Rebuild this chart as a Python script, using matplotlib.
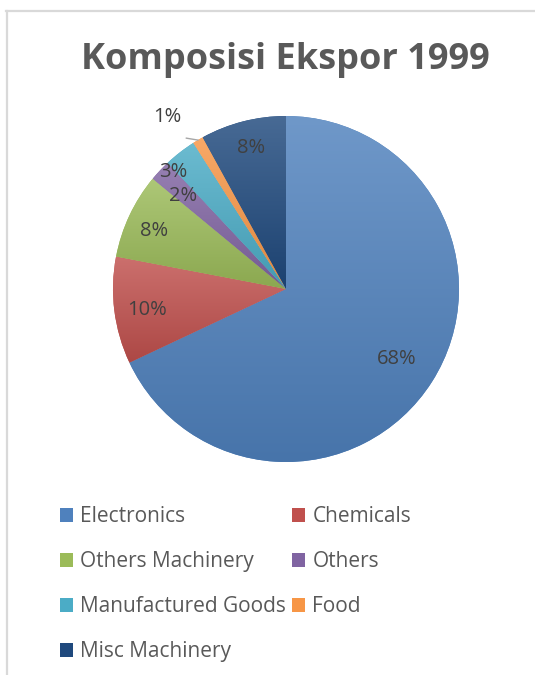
import numpy as np
import matplotlib.pyplot as plt
from matplotlib.patches import Patch
from matplotlib.colors import to_rgb

# data
categories = ['Electronics', 'Chemicals', 'Others Machinery', 'Others',
              'Manufactured Goods', 'Food', 'Misc Machinery']
shares = [68, 10, 8, 2, 3, 1, 8]
colors = ['#4F81BD', '#C0504D', '#9BBB59', '#8064A2', '#4BACC6', '#F79646', '#1F497D']
pct_labels = ['68%', '10%', '8%', '2%', '3%', '1%', '8%']

# label placement (radius factor, angle shift in degrees)
label_r = [0.76, 0.81, 0.83, 0.80, 0.94, 1.21, 0.84]
label_shift = [0, 1.5, 1.5, 1, 6, 4, -0.5]

plt.rcParams['font.family'] = ['Open Sans', 'DejaVu Sans']

fig = plt.figure(figsize=(5.35, 6.75), dpi=100)
W, H = 535, 675
cx, cy, R = 286, 289, 173
ax = fig.add_axes([(cx - R) / W, (H - cy - R) / H, 2 * R / W, 2 * R / H])
ax.set_xlim(-1, 1)
ax.set_ylim(-1, 1)
ax.set_aspect('equal')
ax.axis('off')

wedges, _ = ax.pie(shares, colors=colors, startangle=90, counterclock=False,
                   radius=1, wedgeprops=dict(linewidth=0))


def shade(c, f):
    r = np.array(to_rgb(c))
    if f > 0:
        return r + (1 - r) * f
    return r * (1 + f)


# gradient fill per slice (lighter top, darker bottom)
for w, c in zip(wedges, colors):
    verts = w.get_path().transformed(w.get_patch_transform()).vertices
    y0, y1 = verts[:, 1].min(), verts[:, 1].max()
    x0, x1 = verts[:, 0].min(), verts[:, 0].max()
    top, bot = shade(c, 0.18), shade(c, -0.1)
    t = np.linspace(0, 1, 64)[:, None]
    img = (top[None, :] * (1 - t) + bot[None, :] * t)[:, None, :]
    im = ax.imshow(img, extent=[x0, x1, y0, y1], origin='upper', aspect='auto',
                   zorder=2, interpolation='bilinear')
    im.set_clip_path(w)
ax.set_xlim(-1, 1)
ax.set_ylim(-1, 1)

# percentage labels
for w, lab, rf, sh in zip(wedges, pct_labels, label_r, label_shift):
    mid = np.deg2rad((w.theta1 + w.theta2) / 2 + sh)
    x, y = rf * np.cos(mid), rf * np.sin(mid)
    ax.text(x, y, lab, ha='center', va='center', fontsize=14.5, color='#404040',
            zorder=5, clip_on=False)
    if rf > 1:
        m2 = np.deg2rad((w.theta1 + w.theta2) / 2)
        ax.plot([1.12 * np.cos(mid) + 0.06, 1.0 * np.cos(m2)],
                [1.12 * np.sin(mid) - 0.05, 1.0 * np.sin(m2)],
                color='#a6a6a6', lw=1, zorder=5, clip_on=False)

fig.text(0.534, 0.911, 'Komposisi Ekspor 1999', ha='center', va='center',
         fontsize=26, fontweight='bold', color='#595959')

# legend, row-wise order across two columns
order = [0, 2, 4, 6, 1, 3, 5]
handles = [Patch(facecolor=colors[i], edgecolor='none') for i in order]
fig.legend(handles, [categories[i] for i in order], ncol=2,
           loc='upper left', bbox_to_anchor=(0.092, 0.266),
           frameon=False, fontsize=15, labelcolor='#595959',
           handlelength=0.65, handleheight=0.65, handletextpad=0.35,
           columnspacing=0.25, labelspacing=1.16, borderpad=0)

# chart area border (only top and left visible)
fig.add_artist(plt.Line2D([6 / W, 1], [1 - 11 / H, 1 - 11 / H], color='#d9d9d9', lw=1.6))
fig.add_artist(plt.Line2D([6.5 / W, 6.5 / W], [0, 1 - 11 / H], color='#d9d9d9', lw=1.6))

fig.savefig('out.png', dpi=100, facecolor='white')
